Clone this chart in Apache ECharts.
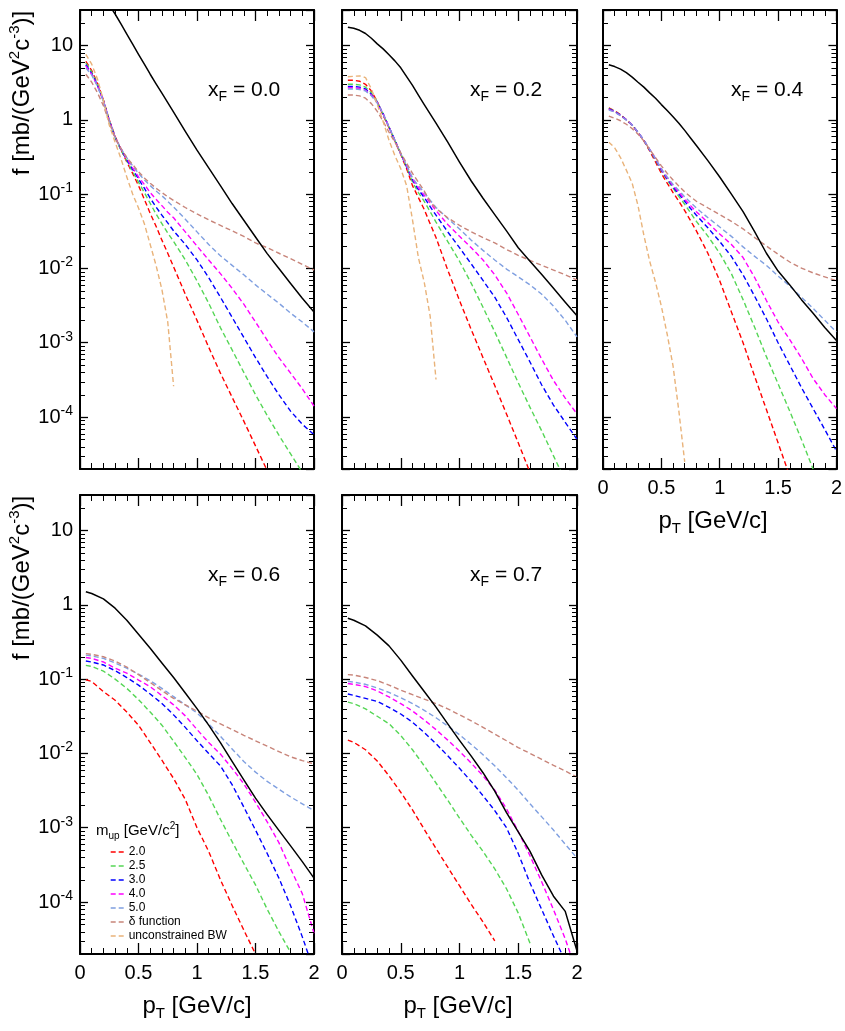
<!DOCTYPE html>
<html>
<head>
<meta charset="utf-8">
<script src="https://cdn.jsdelivr.net/npm/echarts@6/dist/echarts.min.js"></script>
<style>
html,body{margin:0;padding:0;background:#fff;}
#chart{width:845px;height:1031px;}
</style>
</head>
<body>
<div id="chart"></div>
<script>
// ---------- x grids (pT, GeV/c) ----------
const PT_FINE = [0.05,0.1,0.15,0.2,0.25,0.3,0.35,0.4,0.45,0.5,0.55,0.6,0.65,0.7,0.75,0.8,0.9,1.0,1.1,1.2,1.3,1.4,1.5,1.6,1.7,1.8,1.9,2.0];
const PT_COARSE = [0.05,0.1,0.2,0.3,0.4,0.5,0.6,0.7,0.8,0.9,1.0,1.1,1.2,1.3,1.4,1.5,1.6,1.7,1.8,1.9,2.0];

// ---------- panel xF = 0.0 ----------
const p1_total = [140,100,70,50,35,26.5,19.5,14.2,10.4,7.6,5.6,4.1,3.05,2.28,1.7,1.27,0.70,0.39,0.225,0.13,0.0746,0.0445,0.0265,0.0158,0.00995,0.00628,0.00396,0.0026];
const p1_m20 = [6.1,4.6,3.1,1.85,1.0,0.6,0.4,0.27,0.19,0.13,0.085,0.055,0.037,0.024,0.016,0.0105,0.0045,0.002,8.7e-4,3.9e-4,1.85e-4,8.8e-5,4.1e-5,1.9e-5,null,null,null,null];
const p1_m25 = [5.8,4.4,3.0,1.82,0.98,0.58,0.39,0.28,0.2,0.145,0.105,0.075,0.054,0.04,0.03,0.023,0.013,0.0068,0.0034,0.0016,8e-4,4e-4,2e-4,1.05e-4,5.7e-5,3.2e-5,1.8e-5,null];
const p1_m30 = [5.5,4.2,2.9,1.8,0.98,0.58,0.4,0.29,0.215,0.16,0.12,0.088,0.067,0.052,0.041,0.032,0.021,0.013,0.0075,0.0041,0.0022,0.00118,6.3e-4,3.5e-4,2e-4,1.2e-4,8e-5,5.8e-5];
const p1_m40 = [5.3,4.1,2.85,1.8,0.98,0.58,0.41,0.3,0.225,0.17,0.135,0.105,0.085,0.07,0.057,0.048,0.031,0.02,0.013,0.0085,0.0054,0.0033,0.0019,0.00108,6.3e-4,3.9e-4,2.4e-4,1.4e-4];
const p1_m50 = [5.0,4.0,2.8,1.78,0.98,0.58,0.41,0.31,0.24,0.19,0.155,0.13,0.11,0.095,0.08,0.067,0.046,0.031,0.021,0.0148,0.011,0.0082,0.006,0.0045,0.0034,0.0025,0.0019,0.0014];
const p1_delta = [4.1,3.2,2.3,1.55,0.92,0.57,0.41,0.31,0.25,0.2,0.165,0.14,0.12,0.105,0.092,0.082,0.066,0.054,0.045,0.038,0.032,0.027,0.022,0.019,0.016,0.0135,0.0113,0.0095];
const p1_bw = [7.6,5.6,3.5,1.8,0.85,0.5,0.3,0.17,0.1,0.065,0.04,0.021,0.011,0.0052,0.0019,2.6e-4,null,null,null,null,null,null,null,null,null,null,null,null];

// ---------- panel xF = 0.2 ----------
const p2_total = [17.6,17.0,16.0,14.5,12.5,10.5,9.0,7.5,6.2,5.0,3.8,2.9,2.15,1.6,1.2,0.9,0.5,0.27,0.15,0.088,0.053,0.032,0.019,0.0125,0.0083,0.0054,0.0035,0.0023];
const p2_m20 = [3.4,3.4,3.3,3.0,2.45,1.75,1.15,0.78,0.52,0.34,0.22,0.13,0.09,0.062,0.04,0.026,0.0095,0.0037,0.0015,6.3e-4,2.65e-4,1.1e-4,4.5e-5,1.8e-5,null,null,null,null];
const p2_m25 = [3.0,3.0,2.95,2.75,2.3,1.75,1.2,0.8,0.53,0.35,0.23,0.145,0.105,0.08,0.058,0.042,0.023,0.0125,0.0063,0.003,0.0014,6.4e-4,2.9e-4,1.35e-4,6.5e-5,3e-5,1.4e-5,null];
const p2_m30 = [2.8,2.8,2.75,2.6,2.2,1.72,1.2,0.8,0.53,0.35,0.235,0.155,0.115,0.09,0.068,0.052,0.031,0.019,0.0115,0.0069,0.0041,0.0022,0.0011,5.5e-4,2.7e-4,1.45e-4,8.5e-5,5e-5];
const p2_m40 = [2.7,2.7,2.65,2.5,2.15,1.7,1.2,0.8,0.53,0.35,0.24,0.16,0.122,0.097,0.076,0.06,0.039,0.027,0.019,0.013,0.0082,0.0047,0.0024,0.0012,6e-4,3.1e-4,1.8e-4,1.1e-4];
const p2_m50 = [2.6,2.6,2.55,2.45,2.1,1.68,1.2,0.8,0.53,0.35,0.245,0.165,0.13,0.105,0.083,0.066,0.047,0.034,0.024,0.0175,0.013,0.0098,0.0077,0.006,0.0045,0.0031,0.002,0.0012];
const p2_delta = [2.15,2.15,2.1,1.95,1.65,1.3,0.95,0.68,0.5,0.36,0.26,0.19,0.145,0.11,0.08,0.064,0.048,0.038,0.031,0.026,0.022,0.018,0.015,0.0128,0.011,0.0095,0.0082,0.007];
const p2_bw = [3.8,3.85,3.9,3.7,2.6,1.6,0.95,0.53,0.33,0.22,0.13,0.045,0.014,0.0065,0.0023,3.2e-4,null,null,null,null,null,null,null,null,null,null,null,null];

// ---------- panel xF = 0.4 ----------
const p3_total = [5.5,5.2,4.8,4.3,3.75,3.2,2.75,2.3,1.95,1.6,1.33,1.1,0.9,0.72,0.57,0.45,0.28,0.17,0.1,0.058,0.031,0.016,0.0092,0.006,0.0038,0.0025,0.0016,0.00107];
const p3_m20 = [1.45,1.32,1.17,1.0,0.84,0.67,0.52,0.38,0.27,0.19,0.14,0.105,0.08,0.06,0.044,0.032,0.0158,0.0068,0.0026,0.001,3.5e-4,1.26e-4,4.5e-5,1.6e-5,null,null,null,null];
const p3_m25 = [1.42,1.3,1.16,1.0,0.85,0.68,0.53,0.39,0.29,0.205,0.155,0.12,0.093,0.073,0.056,0.043,0.027,0.016,0.0085,0.0038,0.0016,6.5e-4,2.8e-4,1.2e-4,5e-5,2e-5,null,null];
const p3_m30 = [1.4,1.29,1.15,1.0,0.85,0.68,0.53,0.395,0.295,0.21,0.16,0.125,0.1,0.08,0.064,0.052,0.035,0.023,0.0145,0.0082,0.0042,0.0021,0.001,5e-4,2.5e-4,1.3e-4,6.8e-5,3.5e-5];
const p3_m40 = [1.38,1.28,1.14,1.0,0.85,0.68,0.53,0.4,0.3,0.215,0.165,0.13,0.106,0.085,0.07,0.058,0.041,0.029,0.021,0.014,0.0075,0.0037,0.0019,0.0011,6.2e-4,3.3e-4,2e-4,1.3e-4];
const p3_m50 = [1.35,1.27,1.13,0.99,0.85,0.68,0.53,0.4,0.3,0.22,0.17,0.135,0.112,0.092,0.077,0.065,0.048,0.036,0.027,0.0195,0.0145,0.011,0.0079,0.0058,0.0041,0.0029,0.002,0.0014];
const p3_delta = [1.12,1.05,0.97,0.87,0.76,0.64,0.52,0.4,0.31,0.24,0.19,0.155,0.128,0.107,0.092,0.08,0.065,0.053,0.043,0.034,0.026,0.02,0.0155,0.0122,0.0101,0.0087,0.0077,0.0068];
const p3_bw = [0.5,0.42,0.31,0.21,0.14,0.07,0.028,0.0125,0.0065,0.0031,0.0013,4.9e-4,1.2e-4,2.5e-5,null,null,null,null,null,null,null,null,null,null,null,null,null,null];

// ---------- panel xF = 0.6 ----------
const p4_total = [1.5,1.42,1.2,0.9,0.62,0.4,0.26,0.165,0.105,0.065,0.04,0.024,0.014,0.0078,0.0044,0.0025,0.0015,9.2e-4,5.7e-4,3.5e-4,2.1e-4];
const p4_m20 = [0.098,0.093,0.068,0.052,0.036,0.024,0.014,0.0081,0.0046,0.0024,0.001,4.8e-4,2e-4,9e-5,4.2e-5,2e-5,null,null,null,null,null];
const p4_m25 = [0.153,0.148,0.128,0.1,0.075,0.053,0.036,0.024,0.0146,0.0088,0.0052,0.0027,0.0013,6.5e-4,3.3e-4,1.7e-4,8e-5,4e-5,2.1e-5,null,null];
const p4_m30 = [0.175,0.17,0.155,0.13,0.105,0.083,0.063,0.047,0.033,0.0224,0.0148,0.01,0.0068,0.0038,0.0019,9.3e-4,4.5e-4,2.1e-4,8.9e-5,3.4e-5,1.2e-5];
const p4_m40 = [0.195,0.19,0.17,0.14,0.12,0.097,0.079,0.06,0.045,0.032,0.021,0.014,0.0098,0.0063,0.0039,0.0022,0.0012,6.3e-4,2.8e-4,1.3e-4,3.8e-5];
const p4_m50 = [0.21,0.205,0.19,0.165,0.14,0.117,0.095,0.075,0.058,0.045,0.035,0.025,0.017,0.0115,0.0078,0.0056,0.0042,0.0033,0.0026,0.0021,0.0017];
const p4_delta = [0.22,0.215,0.2,0.175,0.145,0.115,0.09,0.07,0.055,0.045,0.037,0.03,0.025,0.021,0.0175,0.0148,0.0125,0.0106,0.009,0.008,0.0072];

// ---------- panel xF = 0.7 ----------
const p5_total = [0.66,0.62,0.52,0.39,0.28,0.18,0.11,0.068,0.042,0.025,0.015,0.0092,0.0055,0.0031,0.0016,8.8e-4,4.8e-4,2.3e-4,1.2e-4,7.5e-5,2.2e-5];
const p5_m20 = [0.0151,0.0141,0.0112,0.0079,0.005,0.003,0.00174,9.5e-4,5.25e-4,2.95e-4,1.66e-4,9.3e-5,5.4e-5,3.0e-5,null,null,null,null,null,null,null];
const p5_m25 = [0.049,0.0468,0.0398,0.0316,0.0251,0.0174,0.0112,0.0068,0.004,0.00234,0.00135,7.9e-4,4.8e-4,2.8e-4,1.51e-4,7.1e-5,2.8e-5,null,null,null,null];
const p5_m30 = [0.063,0.0603,0.055,0.0501,0.0417,0.0339,0.0263,0.0191,0.0135,0.0093,0.0063,0.0042,0.0027,0.0017,0.001,4.5e-4,1.8e-4,7.9e-5,3.5e-5,1.6e-5,null];
const p5_m40 = [0.0871,0.0851,0.0794,0.0692,0.0575,0.0468,0.0372,0.0282,0.0209,0.0151,0.0107,0.0074,0.005,0.0032,0.0018,8.9e-4,4.2e-4,1.86e-4,7.9e-5,3.2e-5,1.1e-5];
const p5_m50 = [0.0933,0.0912,0.0851,0.0759,0.0661,0.0562,0.0468,0.038,0.0302,0.0234,0.0178,0.0132,0.0096,0.0068,0.0047,0.0032,0.0021,0.0014,9.3e-4,6e-4,3.9e-4];
const p5_delta = [0.115,0.1135,0.105,0.0955,0.0832,0.0708,0.0617,0.0537,0.0468,0.0398,0.0331,0.0275,0.0224,0.0182,0.0148,0.012,0.01,0.0083,0.0069,0.0058,0.0048];

// ---------- labels ----------
const XF_LABELS = ['0.0','0.2','0.4','0.6','0.7'];
const LEGEND_NAMES = ['2.0','2.5','3.0','4.0','5.0','δ function','unconstrained BW'];
const X_TICK_INTERVAL = 0.5;
const Y_MIN = 2e-5, Y_MAX = 30;

// ---------- styling ----------
const FONT = "'Liberation Sans', Arial, Helvetica, sans-serif";
const COLORS = {
  '2.0':'#ff0000','2.5':'#55d655','3.0':'#0000ff','4.0':'#ff00ff','5.0':'#7f9fe0',
  'δ function':'#c8857a','unconstrained BW':'#e9b37a','total':'#000000'
};
const GRIDS = [
  {left:80, top:10, width:234, height:459, xLabels:false, yLabels:true},
  {left:342, top:10, width:235, height:459, xLabels:false, yLabels:false},
  {left:603, top:10, width:235, height:459, xLabels:true, yLabels:false},
  {left:80, top:495, width:234, height:459, xLabels:true, yLabels:true},
  {left:342, top:495, width:235, height:459, xLabels:true, yLabels:false}
];
const PANELS = [
  {x:PT_FINE, total:p1_total, curves:[p1_m20,p1_m25,p1_m30,p1_m40,p1_m50,p1_delta,p1_bw]},
  {x:PT_FINE, total:p2_total, curves:[p2_m20,p2_m25,p2_m30,p2_m40,p2_m50,p2_delta,p2_bw]},
  {x:PT_FINE, total:p3_total, curves:[p3_m20,p3_m25,p3_m30,p3_m40,p3_m50,p3_delta,p3_bw]},
  {x:PT_COARSE, total:p4_total, curves:[p4_m20,p4_m25,p4_m30,p4_m40,p4_m50,p4_delta,null]},
  {x:PT_COARSE, total:p5_total, curves:[p5_m20,p5_m25,p5_m30,p5_m40,p5_m50,p5_delta,null]}
];

// log minor tick positions (2..9 x decades inside the axis range)
const MINOR_TICKS = [];
for (let d = -5; d <= 1; d++) for (let m = 2; m <= 9; m++) {
  const v = m * Math.pow(10, d);
  if (v > Y_MIN * 1.0001 && v < Y_MAX * 0.9999) MINOR_TICKS.push(v);
}

function pairs(xs, ys) {
  const out = [];
  for (let i = 0; i < xs.length; i++) if (ys[i] != null) out.push([xs[i], ys[i]]);
  return out;
}

const RICH_AX = {
  b:{fontSize:20, lineHeight:26, fontFamily:FONT, color:'#000'},
  s:{fontSize:14, lineHeight:14, verticalAlign:'top', fontFamily:FONT, color:'#000'}
};

function yLabel(v) {
  const e = Math.log10(v);
  const r = Math.round(e);
  if (Math.abs(e - r) > 1e-6) return '';
  if (r >= 0) return '{b|' + Math.pow(10, r) + '}';
  return '{b|10}{s|' + r + '}';
}

const xAxes = [], yAxes = [], series = [];
GRIDS.forEach((g, gi) => {
  ['bottom','top'].forEach((pos) => {
    xAxes.push({
      type:'value', gridIndex:gi, position:pos, min:0, max:2, interval:X_TICK_INTERVAL,
      axisLine:{show:true, onZero:false, lineStyle:{color:'#000', width:2}},
      axisTick:{show:true, inside:true, length:11, lineStyle:{color:'#000', width:1.3}},
      minorTick:{show:true, splitNumber:5, length:6, lineStyle:{color:'#000', width:1}},
      splitLine:{show:false},
      axisLabel:{show: pos === 'bottom' && g.xLabels, fontSize:20, color:'#000', fontFamily:FONT, margin:9}
    });
  });
  ['left','right'].forEach((pos) => {
    yAxes.push({
      type:'log', logBase:10, gridIndex:gi, position:pos, min:Y_MIN, max:Y_MAX,
      axisLine:{show:true, onZero:false, lineStyle:{color:'#000', width:2}},
      axisTick:{show:true, inside:true, length:8, lineStyle:{color:'#000', width:1.3}},
      splitLine:{show:false},
      axisLabel:{show: pos === 'left' && g.yLabels, showMinLabel:false, showMaxLabel:false,
        margin:7, formatter:yLabel, rich:RICH_AX, color:'#000'}
    });
  });

  const P = PANELS[gi];
  P.curves.forEach((arr, ci) => {
    if (!arr) return;
    const name = LEGEND_NAMES[ci];
    series.push({
      type:'line', name:name, xAxisIndex:2*gi, yAxisIndex:2*gi,
      data:pairs(P.x, arr), showSymbol:false, symbol:'none',
      smooth:false, clip:true, silent:true,
      lineStyle:{color:COLORS[name], width:1.4, type:[5,3], join:'round'},
      itemStyle:{color:COLORS[name]}, z:2
    });
  });
  series.push({
    type:'line', name:'total', xAxisIndex:2*gi, yAxisIndex:2*gi,
    data:pairs(P.x, P.total), showSymbol:false, symbol:'none',
    smooth:false, clip:true, silent:true,
    lineStyle:{color:'#000', width:1.5, type:'solid', join:'round'}, itemStyle:{color:'#000'}, z:3
  });
  // log minor ticks on left and right axes
  series.push({
    type:'custom', xAxisIndex:2*gi, yAxisIndex:2*gi, silent:true, clip:false, z:4,
    data:MINOR_TICKS.map(v => [0, v]), encode:{x:0, y:1},
    renderItem:(params, api) => {
      const v = api.value(1);
      const l = api.coord([0, v]);
      const r = api.coord([2, v]);
      const y = Math.round(l[1]) + 0.5;
      return {type:'group', children:[
        {type:'line', shape:{x1:l[0], y1:y, x2:l[0]+5, y2:y}, style:{stroke:'#000', lineWidth:1}},
        {type:'line', shape:{x1:r[0]-5, y1:y, x2:r[0], y2:y}, style:{stroke:'#000', lineWidth:1}}
      ]};
    }
  });
});

// ---------- texts ----------
const RICH_T = {
  b:{fontSize:24, lineHeight:30, fontFamily:FONT, fill:'#000'},
  s:{fontSize:15, lineHeight:15, verticalAlign:'top', fontFamily:FONT, fill:'#000'},
  u:{fontSize:15, lineHeight:15, verticalAlign:'bottom', fontFamily:FONT, fill:'#000'}
};
const RICH_XF = {
  b:{fontSize:21, lineHeight:28, fontFamily:FONT, fill:'#000'},
  u:{fontSize:14, lineHeight:14, verticalAlign:'bottom', fontFamily:FONT, fill:'#000'}
};
const RICH_LEG = {
  b:{fontSize:15, lineHeight:20, fontFamily:FONT, fill:'#000'},
  s:{fontSize:10, lineHeight:10, verticalAlign:'top', fontFamily:FONT, fill:'#000'},
  u:{fontSize:10, lineHeight:10, verticalAlign:'bottom', fontFamily:FONT, fill:'#000'}
};
const Y_TITLE = '{b|f [mb/(GeV}{s|2}{b|c}{s|-3}{b|)]}';
const X_TITLE = '{b|p}{u|T}{b| [GeV/c]}';

const graphic = [];
[[22, 93], [22, 578]].forEach(p => graphic.push({
  type:'text', x:p[0], y:p[1], rotation:Math.PI/2, silent:true,
  style:{text:Y_TITLE, rich:RICH_T, align:'center', verticalAlign:'middle'}
}));
[[197, 1006], [458, 1006], [713, 521]].forEach(p => graphic.push({
  type:'text', x:p[0], y:p[1], silent:true,
  style:{text:X_TITLE, rich:RICH_T, align:'center', verticalAlign:'middle'}
}));
GRIDS.forEach((g, gi) => graphic.push({
  type:'text', x:g.left + 128, y:g.top + 80, silent:true,
  style:{text:'{b|x}{u|F}{b| = ' + XF_LABELS[gi] + '}', rich:RICH_XF, align:'left', verticalAlign:'middle'}
}));
graphic.push({
  type:'text', x:96, y:831, silent:true,
  style:{text:'{b|m}{u|up}{b| [GeV/c}{s|2}{b|]}', rich:RICH_LEG, align:'left', verticalAlign:'middle'}
});

const option = {
  animation:false,
  backgroundColor:'#fff',
  grid:GRIDS.map(g => ({left:g.left, top:g.top, width:g.width, height:g.height, containLabel:false})),
  xAxis:xAxes,
  yAxis:yAxes,
  legend:{
    data:LEGEND_NAMES, orient:'vertical', left:110, top:846, padding:0,
    itemWidth:13, itemHeight:10, itemGap:2.0, selectedMode:false,
    itemStyle:{color:'rgba(0,0,0,0)', borderColor:'rgba(0,0,0,0)', borderWidth:0, opacity:0},
    lineStyle:{width:1.4, type:[5,3]},
    textStyle:{fontSize:12, color:'#000', fontFamily:FONT, lineHeight:10}
  },
  graphic:graphic,
  series:series
};

const chart = echarts.init(document.getElementById('chart'), null, {renderer:'canvas'});
chart.setOption(option);
</script>
</body>
</html>
